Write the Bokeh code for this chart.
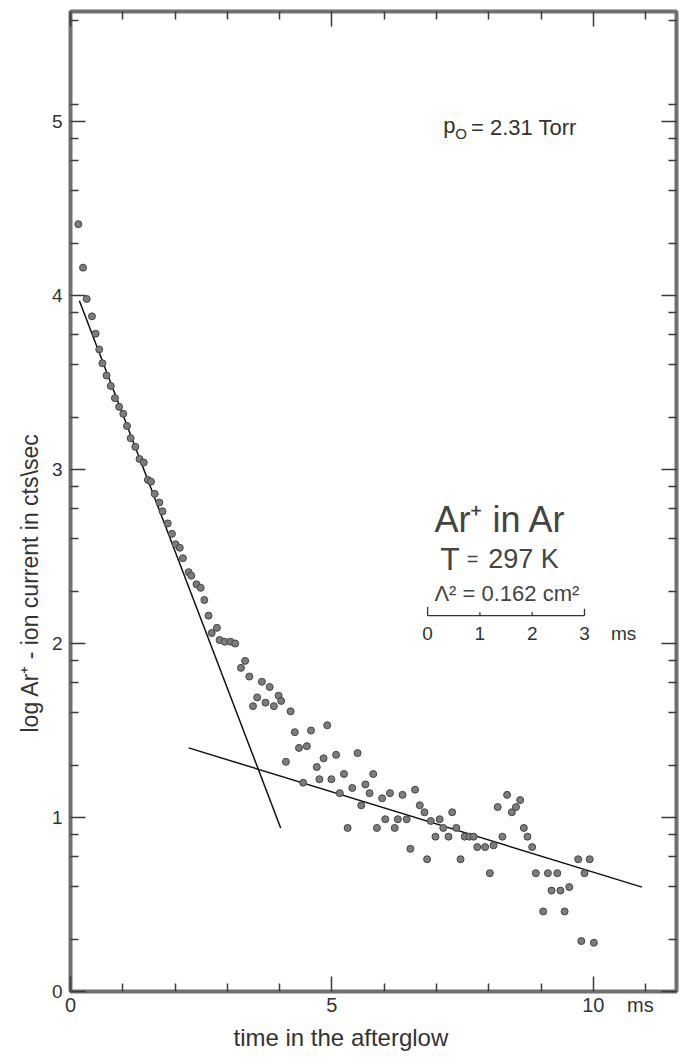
import numpy as np
from bokeh.plotting import figure
from bokeh.models import Label, LinearAxis, FixedTicker, Range1d, ColumnDataSource, Title
from bokeh.embed import file_html
from bokeh.resources import INLINE

# ---------------- data ----------------
time_ms = [0.15, 0.24, 0.31, 0.41, 0.48, 0.55, 0.61, 0.69, 0.77, 0.85,
           0.93, 1.01, 1.08, 1.15, 1.24, 1.32, 1.40, 1.48, 1.54, 1.61,
           1.70, 1.76, 1.86, 1.94, 2.01, 2.09, 2.15, 2.26, 2.31, 2.41,
           2.49, 2.56, 2.64, 2.70, 2.80, 2.85, 2.95, 3.06, 3.15, 3.26,
           3.34, 3.42, 3.49, 3.57, 3.66, 3.73, 3.81, 3.89, 3.98, 4.03,
           4.21, 4.12, 4.29, 4.37, 4.45, 4.52, 4.60, 4.71, 4.76, 4.84,
           4.91, 4.99, 5.08, 5.15, 5.23, 5.30, 5.39, 5.49, 5.56, 5.64,
           5.72, 5.79, 5.86, 5.96, 6.02, 6.11, 6.20, 6.26, 6.35, 6.43,
           6.50, 6.59, 6.68, 6.77, 6.82, 6.89, 6.98, 7.06, 7.13, 7.23,
           7.30, 7.38, 7.46, 7.54, 7.63, 7.71, 7.78, 7.93, 8.02, 8.09,
           8.17, 8.26, 8.35, 8.44, 8.52, 8.60, 8.67, 8.74, 8.83, 8.90,
           9.04, 9.13, 9.20, 9.31, 9.37, 9.45, 9.54, 9.71, 9.77, 9.83,
           9.93, 10.01]

log_current = [4.41, 4.16, 3.98, 3.88, 3.78, 3.69, 3.61, 3.54, 3.48, 3.41,
               3.36, 3.32, 3.25, 3.18, 3.13, 3.06, 3.04, 2.94, 2.93, 2.86,
               2.81, 2.76, 2.69, 2.63, 2.57, 2.55, 2.49, 2.41, 2.39, 2.34,
               2.32, 2.25, 2.16, 2.06, 2.09, 2.02, 2.01, 2.01, 2.00, 1.86,
               1.90, 1.81, 1.64, 1.69, 1.78, 1.66, 1.75, 1.64, 1.70, 1.67,
               1.61, 1.32, 1.49, 1.40, 1.20, 1.41, 1.50, 1.29, 1.22, 1.34,
               1.53, 1.22, 1.36, 1.14, 1.25, 0.94, 1.17, 1.37, 1.07, 1.19,
               1.14, 1.25, 0.94, 1.11, 0.99, 1.14, 0.94, 0.99, 1.13, 0.99,
               0.82, 1.16, 1.07, 1.03, 0.76, 0.98, 0.89, 0.99, 0.94, 0.89,
               1.03, 0.94, 0.76, 0.89, 0.89, 0.89, 0.83, 0.83, 0.68, 0.84,
               1.06, 0.89, 1.13, 1.03, 1.06, 1.10, 0.94, 0.89, 0.83, 0.68,
               0.46, 0.68, 0.58, 0.68, 0.58, 0.46, 0.60, 0.76, 0.29, 0.68,
               0.76, 0.28]

fit_fast_t = [0.17, 4.02]
fit_fast_y = [3.97, 0.94]
fit_slow_t = [2.26, 10.93]
fit_slow_y = [1.40, 0.60]

x_major_ticks = [0, 5, 10]
x_minor_ticks = [1, 2, 3, 4, 6, 7, 8, 9, 11]
x_tick_labels = {0: "0", 5: "5", 10: "10", 10.9: "ms"}
y_major_ticks = [0, 1, 2, 3, 4, 5]
y_minor_mult = [2, 4, 6, 8]
scale_bar_labels = ["0", "1", "2", "3"]

y_minor_ticks = [k + np.log10(m) for k in range(0, 5) for m in y_minor_mult] + [5.10, 5.58]

FONT = "Liberation Sans"
TXT = "#333333"

p = figure(frame_width=606, frame_height=980,
           x_range=Range1d(0, 11.59), y_range=Range1d(0, 5.632),
           output_backend="svg", toolbar_location=None,
           min_border_left=70, min_border_right=3, min_border_top=11, min_border_bottom=62,
           background_fill_color="white", border_fill_color="white")
p.grid.visible = False
p.outline_line_color = "#707070"
p.outline_line_width = 4


def tick_style(ax):
    ax.axis_line_color = None
    ax.major_tick_in = 15
    ax.major_tick_out = 0
    ax.minor_tick_in = 8
    ax.minor_tick_out = 0
    ax.major_tick_line_color = "#3a3a3a"
    ax.minor_tick_line_color = "#3a3a3a"
    ax.major_tick_line_width = 1.5
    ax.minor_tick_line_width = 1.5


def no_labels(ax, ticks):
    ax.major_label_overrides = {t: "" for t in ticks}
    ax.major_label_text_font_size = "0px"
    ax.major_label_standoff = 0


# bottom: tick-only axis next to the frame
bx = p.xaxis[0]
bx.ticker = FixedTicker(ticks=x_major_ticks, minor_ticks=x_minor_ticks)
tick_style(bx)
no_labels(bx, x_major_ticks)

# bottom: label-only axis (numbers and unit)
bl = LinearAxis(ticker=FixedTicker(ticks=list(x_tick_labels.keys()), minor_ticks=[]))
bl.axis_line_color = None
bl.major_tick_in = 0
bl.major_tick_out = 0
bl.minor_tick_in = 0
bl.minor_tick_out = 0
bl.major_label_overrides = x_tick_labels
bl.major_label_text_font = FONT
bl.major_label_text_font_size = "20px"
bl.major_label_text_color = TXT
bl.major_label_standoff = 2
p.add_layout(bl, "below")

# left axis
ly = p.yaxis[0]
ly.ticker = FixedTicker(ticks=y_major_ticks, minor_ticks=y_minor_ticks)
tick_style(ly)
ly.major_label_text_font = FONT
ly.major_label_text_font_size = "19px"
ly.major_label_text_color = TXT
ly.major_label_standoff = 8

# top and right tick-only axes
top_ax = LinearAxis(ticker=FixedTicker(ticks=x_major_ticks, minor_ticks=x_minor_ticks))
tick_style(top_ax)
no_labels(top_ax, x_major_ticks)
p.add_layout(top_ax, "above")
right_ax = LinearAxis(ticker=FixedTicker(ticks=y_major_ticks, minor_ticks=y_minor_ticks))
tick_style(right_ax)
no_labels(right_ax, y_major_ticks)
p.add_layout(right_ax, "right")

# axis titles
p.add_layout(Title(text="time in  the afterglow", align="left", offset=163,
                   text_font=FONT, text_font_size="24px", text_font_style="normal",
                   text_color=TXT, standoff=6), "below")
p.add_layout(Title(text="log Ar\u207a - ion  current  in  cts\\sec", align="left", offset=259,
                   text_font=FONT, text_font_size="23px", text_font_style="normal",
                   text_color=TXT, standoff=12), "left")

# fit lines
p.line(fit_fast_t, fit_fast_y, line_color="#111111", line_width=1.5)
p.line(fit_slow_t, fit_slow_y, line_color="#111111", line_width=1.5)

# data points
src = ColumnDataSource(dict(t=time_ms, y=log_current))
p.scatter("t", "y", source=src, size=7, fill_color="#7c7c7c", line_color="#454545", line_width=1)


def lab(x, y, text, size, align="left", baseline="alphabetic", color=TXT):
    p.add_layout(Label(x=x, y=y, text=text, text_font=FONT, text_font_size=size,
                       text_color=color, text_align=align, text_baseline=baseline))


# pressure
lab(7.13, 4.977, "p", "22px")
lab(7.36, 4.93, "O", "15px")
lab(7.66, 4.966, "= 2.31 Torr", "22px")

# system annotation
lab(6.96, 2.713, "Ar\u207a in Ar", "36px", color="#444444")
lab(7.07, 2.483, "T", "32px", color="#444444")
lab(7.58, 2.483, "=", "20px", color="#444444")
lab(7.99, 2.483, "297 K", "27px", color="#444444")
lab(6.96, 2.287, "\u039b\u00b2 = 0.162 cm\u00b2", "22px", color="#444444")

# scale bar 0..3 ms
sb_x0 = 6.83
sb_y = 2.16
sb_vals = [float(s) for s in scale_bar_labels]
p.line([sb_x0 + sb_vals[0], sb_x0 + sb_vals[-1]], [sb_y, sb_y], line_color="#333333", line_width=1.3)
p.segment(x0=[sb_x0 + v for v in sb_vals], y0=[sb_y] * len(sb_vals),
          x1=[sb_x0 + v for v in sb_vals], y1=[sb_y + 0.05, sb_y + 0.02, sb_y + 0.02, sb_y + 0.04],
          line_color="#333333", line_width=1.3)
for v, s in zip(sb_vals, scale_bar_labels):
    lab(sb_x0 + v, 2.057, s, "19px", "center", "middle")
lab(sb_x0 + 3.75, 2.057, "ms", "19px", "center", "middle")

open("out.html", "w").write(file_html(p, INLINE))
